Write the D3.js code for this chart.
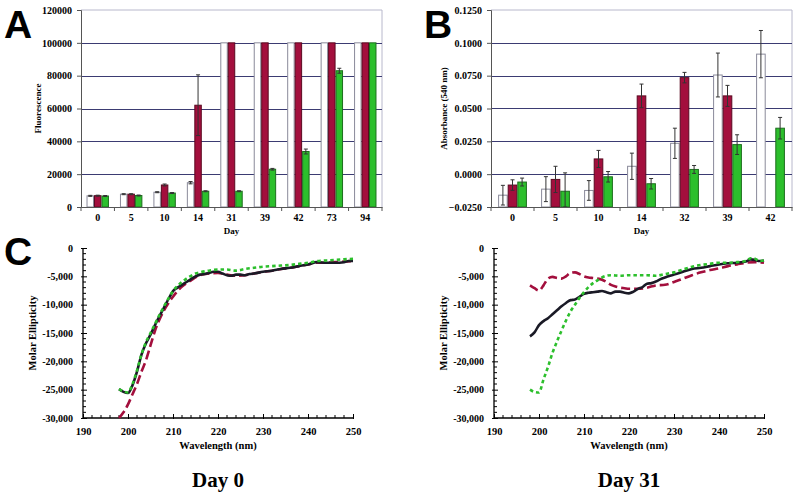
<!DOCTYPE html>
<html><head><meta charset="utf-8">
<script src="https://cdn.jsdelivr.net/npm/d3@7"></script>
<style>body{margin:0;background:#fff}svg{display:block}</style>
</head><body>
<script>
// ---------- Panel A data ----------
const daysA = ["0","5","10","14","31","39","42","73","94"];
const fluorWhite = [6800, 7800, 9000, 14800, 100000, 100000, 100000, 100000, 100000];
const fluorRed   = [6900, 7800, 13400, 62000, 100000, 100000, 100000, 100000, 100000];
const fluorGreen = [6700, 7000, 8500, 9600, 9600, 23000, 33800, 83000, 100000];
const fluorErrWhite = [300, 300, 300, 700, 0, 0, 0, 0, 0];
const fluorErrRed   = [300, 300, 600, 18500, 0, 0, 0, 0, 0];
const fluorErrGreen = [300, 300, 300, 300, 300, 500, 1500, 1500, 0];
const ticksA = [0, 20000, 40000, 60000, 80000, 100000, 120000];

// ---------- Panel B data ----------
const daysB = ["0","5","10","14","32","39","42"];
const absWhite = [-0.0160, -0.0114, -0.0124, 0.0060, 0.0235, 0.0755, 0.0914];
const absRed   = [-0.0083, -0.0040, 0.0116, 0.0596, 0.0735, 0.0596, null];
const absGreen = [-0.0060, -0.0130, -0.0020, -0.0073, 0.0036, 0.0225, 0.0350];
const absErrWhite = [0.0075, 0.0095, 0.0075, 0.0100, 0.0115, 0.0167, 0.0180];
const absErrRed   = [0.0040, 0.0100, 0.0065, 0.0090, 0.0040, 0.0080, null];
const absErrGreen = [0.0030, 0.0140, 0.0040, 0.0040, 0.0030, 0.0075, 0.0082];
const ticksB = [-0.025, 0, 0.025, 0.05, 0.075, 0.1, 0.125];

// ---------- Panel C data (wavelength nm, molar ellipticity) ----------
const day0Black = [[198,-24900],[199,-25400],[200,-25600],[201,-24200],[202,-21800],[203,-18800],[204,-16800],[205,-15300],[206,-13600],[207,-12000],[208,-10500],[209,-9000],[210,-7600],[211,-7000],[212,-6500],[213,-6000],[214,-5500],[215,-5000],[216,-4700],[217,-4600],[218,-4400],[219,-4200],[220,-4200],[221,-4500],[222,-4800],[223,-4900],[224,-4700],[225,-4700],[226,-4800],[227,-4600],[228,-4500],[230,-4200],[232,-4000],[234,-3700],[236,-3500],[238,-3200],[240,-2900],[242,-2500],[244,-2600],[246,-2600],[248,-2500],[249,-2300],[250,-2300]];
const day0Red = [[198,-30000],[199,-29000],[200,-27600],[201,-25800],[202,-24000],[203,-21800],[204,-19800],[205,-17200],[206,-14600],[207,-12600],[208,-11000],[209,-9700],[210,-8600],[211,-7600],[212,-6800],[213,-6200],[214,-5700],[215,-5200],[216,-4800],[218,-4500],[220,-4400],[222,-4700],[224,-4900],[226,-4800],[228,-4500],[230,-4200],[232,-4000],[234,-3700],[236,-3500],[238,-3200],[240,-2900],[242,-2600],[244,-2600],[246,-2500],[248,-2400],[250,-2300]];
const day0Green = [[198,-24900],[199,-25300],[200,-25500],[201,-24000],[202,-21600],[203,-18800],[204,-16600],[205,-15000],[206,-13400],[207,-11800],[208,-10300],[209,-8900],[210,-7600],[211,-6700],[212,-6000],[213,-5400],[214,-4900],[215,-4500],[216,-4300],[218,-4000],[220,-3800],[222,-3800],[224,-4000],[226,-3700],[228,-3500],[230,-3300],[232,-3200],[234,-3100],[236,-3000],[238,-2800],[240,-2600],[242,-2300],[244,-2200],[246,-2100],[248,-2000],[250,-1900]];
const day31Black = [[198,-15600],[199,-14900],[200,-13600],[201,-12900],[202,-12400],[203,-11700],[204,-11000],[205,-10300],[206,-9700],[207,-9200],[208,-9100],[209,-8600],[210,-8100],[211,-7900],[212,-7800],[213,-7700],[214,-7600],[215,-7800],[216,-8000],[217,-7700],[218,-7700],[219,-7900],[220,-8000],[221,-7700],[222,-7200],[223,-6900],[224,-6300],[225,-6200],[226,-5900],[227,-5500],[228,-5200],[230,-4700],[232,-4200],[234,-3700],[236,-3500],[238,-3200],[240,-2900],[242,-2700],[244,-2600],[246,-2400],[247,-2000],[248,-2100],[249,-2300],[250,-2200]];
const day31Red = [[198,-6600],[199,-7100],[200,-7500],[201,-6600],[202,-5400],[203,-5100],[204,-5300],[205,-5400],[206,-5000],[207,-4400],[208,-4300],[209,-4600],[210,-5000],[211,-5200],[212,-5300],[213,-5400],[214,-5600],[215,-6000],[216,-6500],[217,-6800],[218,-7000],[219,-7100],[220,-7200],[221,-7200],[222,-7200],[224,-7000],[226,-6600],[228,-6500],[230,-6000],[232,-5400],[234,-4800],[236,-4300],[238,-3900],[240,-3600],[242,-3200],[244,-2900],[246,-2600],[248,-2500],[250,-2600]];
const day31Green = [[198,-25000],[199,-25400],[200,-25500],[201,-23200],[202,-21000],[203,-18500],[204,-16500],[205,-14600],[206,-12800],[207,-11200],[208,-10000],[209,-8800],[210,-7800],[211,-6900],[212,-6200],[213,-5700],[214,-5200],[215,-4900],[216,-4800],[218,-4900],[220,-4800],[222,-4800],[224,-4800],[226,-4900],[228,-4600],[230,-4300],[232,-3800],[234,-3300],[236,-3000],[238,-2800],[240,-2600],[242,-2600],[244,-2500],[246,-2300],[247,-1800],[248,-1900],[249,-2300],[250,-2200]];
const ticksCY = [0, -5000, -10000, -15000, -20000, -25000, -30000];
const ticksCX = [190, 200, 210, 220, 230, 240, 250];

// ---------- styles ----------
const RED = "#a30f3d", GREEN = "#2cbf2c", GRID = "#3b3b72", BORDER = "#b8b8cc";
const SERIF = "'Liberation Serif','Times New Roman',serif";
const SANS = "'Liberation Sans',Arial,sans-serif";

const svg = d3.select("body").append("svg").attr("width", 800).attr("height", 497);

function letter(txt, x, y) {
  svg.append("text").attr("x", x).attr("y", y).text(txt)
    .style("font-family", SANS).style("font-weight", "bold").style("font-size", "39px").attr("fill", "#000");
}

function barPanel(cfg) {
  const g = svg.append("g");
  const x0 = d3.scaleBand().domain(cfg.days).range([cfg.left, cfg.right]).paddingInner(0.33).paddingOuter(0.165);
  const series = ["w", "r", "g"];
  const x1 = d3.scaleBand().domain(series).range([0, x0.bandwidth()]);
  const y = d3.scaleLinear().domain(cfg.domain).range([cfg.bottom, cfg.top]);
  g.append("path").attr("d", `M${cfg.left},${cfg.top}H${cfg.right}V${cfg.bottom}`)
    .attr("fill", "none").attr("stroke", BORDER).attr("stroke-width", 1);
  g.selectAll("line.grid").data(cfg.grid).join("line")
    .attr("x1", cfg.left).attr("x2", cfg.right)
    .attr("y1", d => Math.round(y(d)) + 0.5).attr("y2", d => Math.round(y(d)) + 0.5)
    .attr("stroke", GRID).attr("stroke-width", 1);
  const base = y(cfg.domain[0]);
  const specs = [
    {k: "w", v: cfg.white, e: cfg.eWhite, fill: "#fff", stroke: "#8a8a9a"},
    {k: "r", v: cfg.red, e: cfg.eRed, fill: RED, stroke: "#5a0820"},
    {k: "g", v: cfg.green, e: cfg.eGreen, fill: GREEN, stroke: "#1d6e1d"}
  ];
  specs.forEach(s => {
    const data = cfg.days.map((d, i) => ({d, v: s.v[i], e: s.e[i]})).filter(o => o.v != null);
    g.selectAll(null).data(data).join("rect")
      .attr("x", o => x0(o.d) + x1(s.k) + 0.5)
      .attr("width", x1.bandwidth() - 1)
      .attr("y", o => Math.min(y(o.v), base))
      .attr("height", o => Math.abs(base - y(o.v)))
      .attr("fill", s.fill).attr("stroke", s.stroke).attr("stroke-width", 1);
    data.filter(o => o.e).forEach(o => {
      const cx = x0(o.d) + x1(s.k) + x1.bandwidth() / 2;
      const lo = Math.min(y(o.v - o.e), base), hi = y(o.v + o.e);
      g.append("line").attr("x1", cx).attr("x2", cx).attr("y1", lo).attr("y2", hi).attr("stroke", "#333").attr("stroke-width", 1);
      [hi, lo].forEach(yy => g.append("line").attr("x1", cx - 2).attr("x2", cx + 2).attr("y1", yy).attr("y2", yy).attr("stroke", "#333"));
    });
  });
  const ay = d3.axisLeft(y).tickValues(cfg.ticks).tickSize(4).tickFormat(cfg.fmt);
  const gy = g.append("g").attr("transform", `translate(${cfg.left},0)`).call(ay);
  gy.select(".domain").attr("stroke", "#555");
  gy.selectAll(".tick line").attr("stroke", "#555");
  gy.selectAll("text").style("font-family", SERIF).style("font-weight", "bold").style("font-size", "10px").attr("fill", "#000").attr("dx", -2);
  const ax = d3.axisBottom(x0).tickSize(0).tickPadding(7);
  const gx = g.append("g").attr("transform", `translate(0,${cfg.bottom})`).call(ax);
  gx.select(".domain").attr("stroke", "#555");
  gx.selectAll("text").style("font-family", SERIF).style("font-weight", "bold").style("font-size", "10px").attr("fill", "#000");
  const step = x0.step();
  d3.range(cfg.days.length + 1).forEach(i => {
    const xx = cfg.left + i * step;
    g.append("line").attr("x1", xx).attr("x2", xx).attr("y1", cfg.bottom).attr("y2", cfg.bottom + 4).attr("stroke", "#555");
  });
  g.append("text").attr("x", (cfg.left + cfg.right) / 2).attr("y", cfg.bottom + 27).attr("text-anchor", "middle")
    .style("font-family", SERIF).style("font-weight", "bold").style("font-size", "9px").text("Day");
  g.append("text").attr("transform", `translate(${cfg.ylabX},${(cfg.top + cfg.bottom) / 2}) rotate(-90)`)
    .attr("text-anchor", "middle").style("font-family", SERIF).style("font-weight", "bold").style("font-size", "9px").text(cfg.ylab);
}

barPanel({days: daysA, left: 81, right: 382, top: 10, bottom: 207, domain: [0, 120000],
  ticks: ticksA, grid: [20000, 40000, 60000, 80000, 100000], fmt: d3.format("d"),
  white: fluorWhite, red: fluorRed, green: fluorGreen,
  eWhite: fluorErrWhite, eRed: fluorErrRed, eGreen: fluorErrGreen,
  ylab: "Fluorescence", ylabX: 41});

barPanel({days: daysB, left: 491, right: 792, top: 10, bottom: 207, domain: [-0.025, 0.125],
  ticks: ticksB, grid: [0, 0.025, 0.05, 0.075, 0.1], fmt: d3.format(".4f"),
  white: absWhite, red: absRed, green: absGreen,
  eWhite: absErrWhite, eRed: absErrRed, eGreen: absErrGreen,
  ylab: "Absorbance (540 nm)", ylabX: 447});

function cdPanel(cfg) {
  const g = svg.append("g");
  const x = d3.scaleLinear().domain([190, 250]).range([cfg.left, cfg.right]);
  const y = d3.scaleLinear().domain([-30000, 0]).range([cfg.bottom, cfg.top]);
  g.append("line").attr("x1", cfg.left).attr("x2", cfg.left).attr("y1", cfg.top).attr("y2", cfg.bottom).attr("stroke", "#000").attr("stroke-width", 1.3);
  g.append("line").attr("x1", cfg.left).attr("x2", cfg.right).attr("y1", cfg.bottom).attr("y2", cfg.bottom).attr("stroke", "#000").attr("stroke-width", 1.3);
  const ay = d3.axisLeft(y).tickValues(ticksCY).tickSize(5).tickFormat(d => d === 0 ? "0" : "-" + d3.format(",")(-d));
  const gy = g.append("g").attr("transform", `translate(${cfg.left},0)`).call(ay);
  gy.select(".domain").remove();
  gy.selectAll(".tick line").attr("stroke", "#000").attr("x2", 4).attr("x1", -2);
  gy.selectAll("text").style("font-family", SERIF).style("font-weight", "bold").style("font-size", "10px").attr("fill", "#000").attr("x", -10);
  d3.range(-30000, 1, 1000).filter(v => v % 5000 !== 0).forEach(v => {
    g.append("line").attr("x1", cfg.left).attr("x2", cfg.left + 3).attr("y1", y(v)).attr("y2", y(v)).attr("stroke", "#000");
  });
  const ax = d3.axisBottom(x).tickValues(ticksCX).tickSize(5).tickFormat(d3.format("d"));
  const gx = g.append("g").attr("transform", `translate(0,${cfg.bottom})`).call(ax);
  gx.select(".domain").remove();
  gx.selectAll(".tick line").attr("stroke", "#000").attr("y1", 1).attr("y2", -4);
  gx.selectAll("text").style("font-family", SERIF).style("font-weight", "bold").style("font-size", "10.5px").attr("fill", "#000").attr("y", 10);
  d3.range(190, 251, 2).filter(v => v % 10 !== 0).forEach(v => {
    g.append("line").attr("x1", x(v)).attr("x2", x(v)).attr("y1", cfg.bottom).attr("y2", cfg.bottom - 3).attr("stroke", "#000");
  });
  const line = d3.line().x(d => x(d[0])).y(d => y(d[1])).curve(d3.curveMonotoneX);
  g.append("path").datum(cfg.red).attr("d", line).attr("fill", "none").attr("stroke", RED).attr("stroke-width", 2.6).attr("stroke-dasharray", "9,4");
  g.append("path").datum(cfg.black).attr("d", line).attr("fill", "none").attr("stroke", "#1a1a26").attr("stroke-width", 2.6);
  g.append("path").datum(cfg.green).attr("d", line).attr("fill", "none").attr("stroke", GREEN).attr("stroke-width", 2.6).attr("stroke-dasharray", "3.5,3");
  g.append("text").attr("x", (cfg.left + cfg.right) / 2).attr("y", cfg.bottom + 31).attr("text-anchor", "middle")
    .style("font-family", SERIF).style("font-weight", "bold").style("font-size", "10.5px").text("Wavelength (nm)");
  g.append("text").attr("transform", `translate(${cfg.ylabX},${(cfg.top + cfg.bottom) / 2}) rotate(-90)`)
    .attr("text-anchor", "middle").style("font-family", SERIF).style("font-weight", "bold").style("font-size", "10.5px").text("Molar Ellipticity");
  g.append("text").attr("x", (cfg.left + cfg.right) / 2).attr("y", 487).attr("text-anchor", "middle")
    .style("font-family", SERIF).style("font-weight", "bold").style("font-size", "21px").text(cfg.title);
}

cdPanel({left: 83, right: 353, top: 248, bottom: 418, black: day0Black, red: day0Red, green: day0Green, ylabX: 36, title: "Day 0"});
cdPanel({left: 494, right: 764, top: 248, bottom: 418, black: day31Black, red: day31Red, green: day31Green, ylabX: 447, title: "Day 31"});

letter("A", 4, 38);
letter("B", 424, 38);
letter("C", 4, 265);
</script>
</body></html>
